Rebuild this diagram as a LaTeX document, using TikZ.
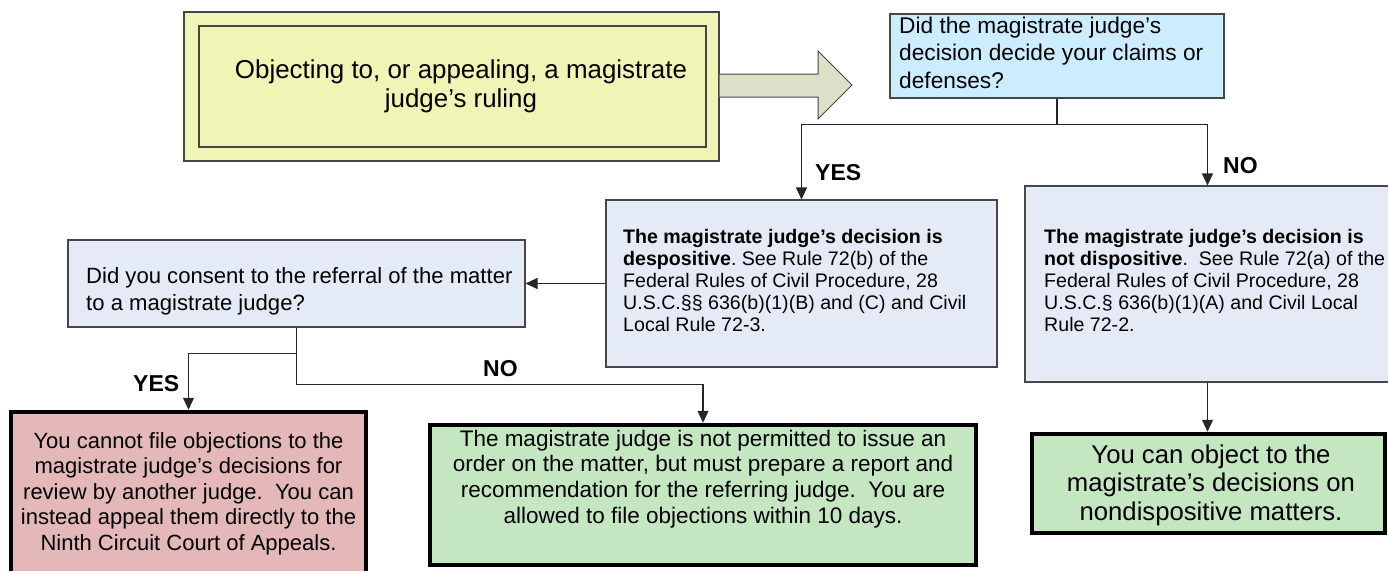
\documentclass[tikz,border=0pt]{standalone}
\usepackage{fontspec}
\setmainfont{Liberation Sans}
\usetikzlibrary{arrows.meta}
\frenchspacing
\definecolor{yel}{RGB}{239,245,180}
\definecolor{arrfill}{RGB}{220,224,200}
\definecolor{qblue}{RGB}{204,236,255}
\definecolor{lav}{RGB}{229,235,246}
\definecolor{pinkc}{RGB}{228,184,184}
\definecolor{greenc}{RGB}{196,231,194}
\definecolor{linegray}{RGB}{70,70,70}
\newcommand{\txtl}[1]{\begin{tabular}[t]{@{}l@{}}#1\end{tabular}}
\newcommand{\txtc}[1]{\begin{tabular}[t]{@{}c@{}}#1\end{tabular}}
\begin{document}
\begin{tikzpicture}[x=1pt,y=-1pt,
  thinbox/.style={draw=linegray, line width=1.1pt, rectangle, inner sep=0pt},
  thickbox/.style={draw=black, line width=4.5pt, rectangle, inner sep=0pt},
  conn/.style={draw=black!85, line width=1.1pt},
  arr/.style={conn, -{Triangle[length=12pt,width=11pt]}},
  txt/.style={inner sep=0pt, anchor=base west},
  ctxt/.style={inner sep=0pt, anchor=base},
  lab/.style={font=\fontsize{23pt}{27pt}\selectfont\bfseries, inner sep=0pt, anchor=base west}]
\useasboundingbox (0,0) rectangle (1388,570);

% start box
\node[thinbox, fill=yel, minimum width=535pt, minimum height=149pt] (start) at (451.5,86.5) {};
\node[thinbox, minimum width=507pt, minimum height=121pt] (startin) at (452.5,86.5) {};
\node[ctxt, font=\fontsize{25.9pt}{29pt}\selectfont] (starttxt) at (461,78)
  {\txtc{Objecting to, or appealing, a magistrate\\judge’s ruling}};

% block arrow
\draw[fill=arrfill, draw=linegray, line width=1pt]
  (start.east |- 0,74) -- (818,74) -- (818,51) -- (852,85) -- (818,119) -- (818,97) -- (start.east |- 0,97);

% question 1
\node[thinbox, fill=qblue, minimum width=334pt, minimum height=84pt] (q1) at (1057,56) {};
\node[txt, font=\fontsize{22.7pt}{27.5pt}\selectfont] (q1t) at (899,33.3)
  {\txtl{Did the magistrate judge’s\\decision decide your claims or\\defenses?}};

% dispositive
\node[thinbox, fill=lav, minimum width=391pt, minimum height=167pt] (disp) at (801.5,283.5) {};
\node[txt, font=\fontsize{19.6pt}{22pt}\selectfont] (dispt) at (623,243)
  {\txtl{\textbf{The magistrate judge’s decision is}\\\textbf{despositive}. See Rule 72(b) of the\\Federal Rules of Civil Procedure, 28\\U.S.C.§§ 636(b)(1)(B) and (C) and Civil\\Local Rule 72-3.}};

% not dispositive
\node[thinbox, fill=lav, minimum width=365pt, minimum height=196pt] (ndisp) at (1207.5,284) {};
\node[txt, font=\fontsize{19.6pt}{22pt}\selectfont] (ndispt) at (1044,243)
  {\txtl{\textbf{The magistrate judge’s decision is}\\\textbf{not dispositive}.\ \ See Rule 72(a) of the\\Federal Rules of Civil Procedure, 28\\U.S.C.§ 636(b)(1)(A) and Civil Local\\Rule 72-2.}};

% consent question
\node[thinbox, fill=lav, minimum width=457pt, minimum height=87pt] (cons) at (296.5,283.5) {};
\node[txt, font=\fontsize{22.1pt}{27pt}\selectfont] (const) at (86,283)
  {\txtl{Did you consent to the referral of the matter\\to a magistrate judge?}};

% pink result
\node[thickbox, fill=pinkc, minimum width=355pt, minimum height=164pt] (noobj) at (188.5,494) {};
\node[ctxt, font=\fontsize{22pt}{25.5pt}\selectfont] (noobjt) at (188.5,448)
  {\txtc{You cannot file objections to the\\magistrate judge’s decisions for\\review by another judge.\ \ You can\\instead appeal them directly to the\\Ninth Circuit Court of Appeals.}};

% green middle
\node[thickbox, fill=greenc, minimum width=546pt, minimum height=140pt] (rr) at (703,495) {};
\node[ctxt, font=\fontsize{22.5pt}{25.8pt}\selectfont] (rrt) at (703,446)
  {\txtc{The magistrate judge is not permitted to issue an\\order on the matter, but must prepare a report and\\recommendation for the referring judge.\ \ You are\\allowed to file objections within 10 days.}};

% green right
\node[thickbox, fill=greenc, minimum width=353pt, minimum height=99pt] (ok) at (1208.5,483.5) {};
\node[ctxt, font=\fontsize{25.7pt}{28.5pt}\selectfont] (okt) at (1211,463)
  {\txtc{You can object to the\\magistrate’s decisions on\\nondispositive matters.}};

% connectors
\draw[conn] (q1.south) -- ++(0,26) coordinate (j1);
\draw[arr] (j1) -| (disp.north);
\draw[arr] (j1) -| (ndisp.north);
\draw[arr] (disp.west) -- (cons.east);
\draw[conn] (cons.south) -- ++(0,26) coordinate (j2);
\draw[arr] (j2) -| (noobj.north);
\draw[arr] (cons.south) -- ++(0,57) -| (rr.north);
\draw[arr] (ndisp.south) -- (ndisp.south |- ok.north);

% labels
\node[lab] (yes1) at (815,180) {YES};
\node[lab] (no1) at (1223,173) {NO};
\node[lab] (yes2) at (133,391) {YES};
\node[lab] (no2) at (483,376) {NO};
\end{tikzpicture}
\end{document}
